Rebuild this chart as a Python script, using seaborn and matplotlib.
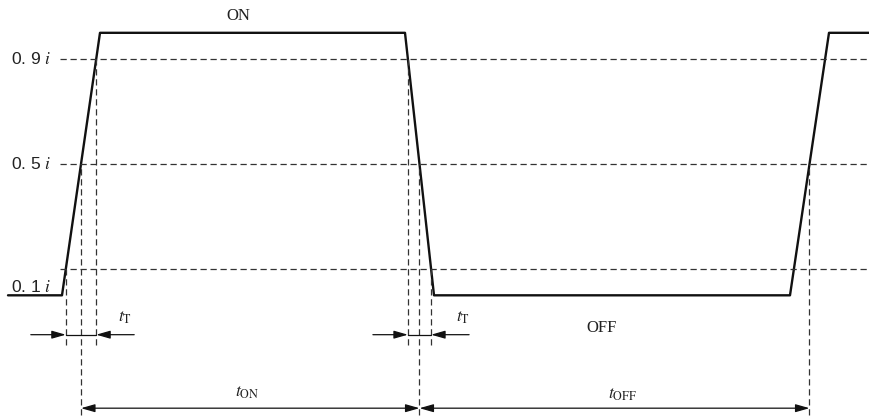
import numpy as np
import pandas as pd
import matplotlib
matplotlib.use("Agg")
import matplotlib.pyplot as plt
import seaborn as sns

# waveform: time (arbitrary units) vs current (fraction of i)
t_wave = [8, 62, 100, 405, 434, 790, 829, 870]
i_wave = [0, 0, 1, 1, 0, 0, 1, 1]

# reference levels and their labels
levels = [0.1, 0.5, 0.9]
level_labels = ["0. 1", "0. 5", "0. 9"]

# edges of the waveform (segment index into t_wave)
rise1, fall1, rise2 = 1, 3, 5

sns.set_theme(style="white")
plt.rcParams["font.family"] = ["Liberation Sans", "DejaVu Sans"]
plt.rcParams["mathtext.fontset"] = "stix"

fig = plt.figure(figsize=(8.7, 4.2), dpi=100)
ax = fig.add_axes([0, 0, 1, 1])
ax.set_xlim(0, 870)
ax.set_ylim(-0.475, 1.125)
ax.axis("off")

df = pd.DataFrame({"t": t_wave, "i": i_wave})
sns.lineplot(data=df, x="t", y="i", ax=ax, color="#111111", lw=1.7,
             sort=False, estimator=None)


def cross(seg, v):
    # time at which the edge starting at t_wave[seg] passes level v
    t0, t1 = t_wave[seg], t_wave[seg + 1]
    i0, i1 = i_wave[seg], i_wave[seg + 1]
    return t0 + (v - i0) / (i1 - i0) * (t1 - t0)


dash = dict(color="#333333", lw=0.9, ls=(0, (5, 3)))
txt = "#222222"

# horizontal level lines + labels
for v, lab in zip(levels, level_labels):
    ax.hlines(v, 60, 870, **dash)
    ax.text(11, v - (0.068 if v == 0.1 else 0), lab + r" $i$", fontsize=12.5,
            color=txt, va="center", ha="left")

# vertical projection lines
y_short, y_long = -0.19, -0.455
for seg in (rise1, fall1):
    for v in (0.1, 0.9):
        ax.vlines(cross(seg, v), y_short, v, **dash)
for seg in (rise1, fall1, rise2):
    ax.vlines(cross(seg, 0.5), y_long, 0.5, **dash)

arrow = dict(arrowstyle="-|>,head_length=0.7,head_width=0.2",
             color="#111111", lw=0.9, shrinkA=0, shrinkB=0)
arrow2 = dict(arrowstyle="<|-|>,head_length=0.7,head_width=0.2",
              color="#111111", lw=0.9, shrinkA=0, shrinkB=0)

# transition times t_T
y_t = -0.15
for seg, lab_x in ((rise1, 125), (fall1, 463)):
    a, b = sorted([cross(seg, 0.1), cross(seg, 0.9)])
    ax.annotate("", xy=(a, y_t), xytext=(a - 35, y_t), arrowprops=arrow)
    ax.annotate("", xy=(b, y_t), xytext=(b + 38, y_t), arrowprops=arrow)
    ax.plot([a, b], [y_t, y_t], color="#111111", lw=0.9)
    ax.text(lab_x, y_t + 0.065, r"$t_{\mathrm{T}}$", fontsize=12.5,
            color=txt, ha="center", va="center")

# on / off durations
y_d = -0.43
t_a, t_b, t_c = cross(rise1, 0.5), cross(fall1, 0.5), cross(rise2, 0.5)
ax.annotate("", xy=(t_a, y_d), xytext=(t_b, y_d), arrowprops=arrow2)
ax.annotate("", xy=(t_b, y_d), xytext=(t_c, y_d), arrowprops=arrow2)
ax.text((t_a + t_b) / 2 - 3, y_d + 0.06, r"$t_{\mathrm{ON}}$", fontsize=12.5,
        color=txt, ha="center", va="center")
ax.text((t_b + t_c) / 2 + 8, y_d + 0.05, r"$t_{\mathrm{OFF}}$", fontsize=12.5,
        color=txt, ha="center", va="center")

# state labels
ax.text(238, 1.065, "ON", fontsize=12, family="Liberation Serif",
        color=txt, ha="center", va="center")
ax.text(602, -0.125, "OFF", fontsize=12, family="Liberation Serif",
        color=txt, ha="center", va="center")

fig.savefig("out.png", dpi=100)
